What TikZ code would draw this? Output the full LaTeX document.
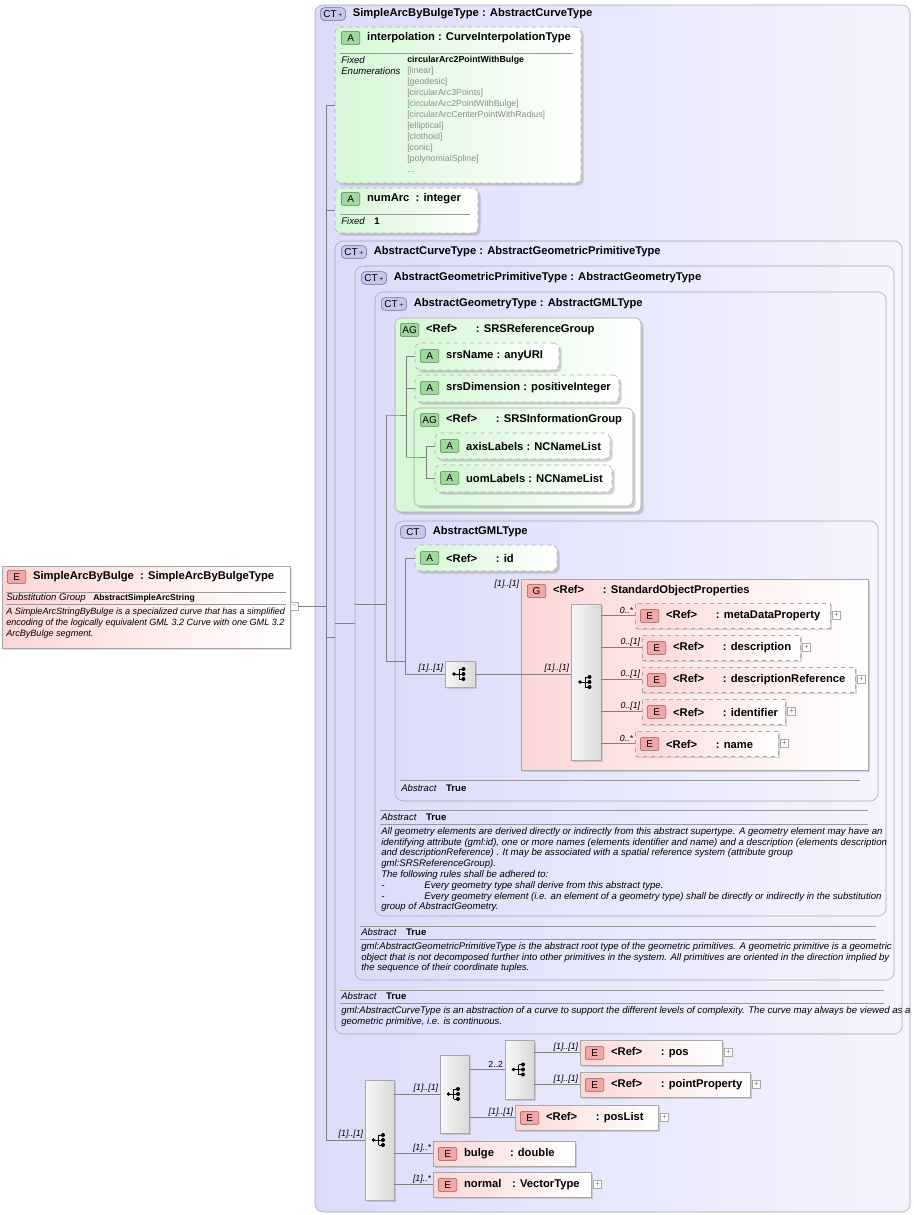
\documentclass[tikz,border=0pt]{standalone}
\usepackage{fontspec}
\setmainfont{Liberation Sans}
\usetikzlibrary{positioning,fit,shadows}

\definecolor{ctfill}{HTML}{DCDCFA}
\definecolor{ctlight}{HTML}{F4F4FF}
\definecolor{grfill}{HTML}{D6F7D6}
\definecolor{pkfill}{HTML}{FCD6D6}
\definecolor{edge}{HTML}{A8A8A8}
\definecolor{bdgpk}{HTML}{F2A6A6}
\definecolor{bdggr}{HTML}{9ED99E}
\definecolor{bdgct}{HTML}{C6C6EE}
\definecolor{enumgrey}{HTML}{8C8C8C}

\newcommand{\ttlfont}{\bfseries\fontsize{8.4}{10}\selectfont}
\newcommand{\smfont}{\fontsize{7.2}{8.1}\selectfont}
\newcommand{\gap}{\hspace{14pt}}

\begin{document}
\begin{tikzpicture}[
    x=0.75pt, y=-0.75pt,
    ctbox/.style={draw=edge, rounded corners=6pt, left color=ctfill, right color=ctlight, inner sep=0pt},
    grp/.style={draw=edge, rounded corners=4pt, left color=grfill, right color=white, inner sep=0pt,
        drop shadow={opacity=.35, shadow xshift=2pt, shadow yshift=-2pt}},
    abox/.style={grp, dashed, drop shadow={opacity=0}},
    ebox/.style={draw=edge, left color=pkfill, right color=white, inner sep=0pt,
        drop shadow={opacity=.3, shadow xshift=1.5pt, shadow yshift=-1.5pt}},
    edash/.style={ebox, dashed},
    seqbox/.style={draw=edge, left color=white!94!gray, right color=gray!30, inner sep=0pt,
        drop shadow={opacity=.3, shadow xshift=1.5pt, shadow yshift=-1.5pt}},
    badge/.style={draw=#1!55!black, fill=#1, rounded corners=1pt, inner sep=0pt,
        minimum width=14pt, minimum height=9.5pt, font=\fontsize{7.5}{8}\selectfont, anchor=west},
    ctbadge/.style={badge=bdgct, minimum width=19pt, rounded corners=3pt},
    ttl/.style={font=\ttlfont, anchor=west, inner sep=0pt},
    sm/.style={font=\smfont, anchor=west, inner sep=0pt},
    desc/.style={font=\itshape\smfont, align=left, anchor=north west, inner sep=0pt},
    mult/.style={font=\itshape\fontsize{6.6}{7}\selectfont, anchor=south east, inner sep=1pt},
    plus/.style={draw=edge, fill=white, minimum size=6pt, inner sep=0pt, font=\fontsize{6}{6}\selectfont, text=gray},
    sep/.style={draw=gray!80, line width=0.4pt},
    line/.style={draw=gray, line width=0.5pt},
    seqicon/.pic={
        \fill (-6,0) circle (1.8);
        \draw (-6,0) -- (-1,0) (-1,-5) -- (-1,5) (-1,-5) -- (3,-5) (-1,5) -- (3,5) (-1,0) -- (3,0);
        \foreach \yy in {-5,0,5} \fill (3.5,\yy) circle (2);
    }
]
\useasboundingbox (0,0) rectangle (914,1215);

% outer complex type
\node[ctbox, fit={(315,5) (910,1212)}] (sabt) {};
\node[ctbadge] (sabtB) at (320,14) {CT\,\raisebox{.3pt}{\tiny+}};
\node[ttl, right=5pt of sabtB] (sabtT) {SimpleArcByBulgeType\ : AbstractCurveType};

% element
\node[ebox, fit={(2,566) (290,648)}] (sab) {};
\node[badge=bdgpk] (sabB) at (7,577) {E};
\node[ttl, right=5pt of sabB] (sabT) {SimpleArcByBulge\ \ : SimpleArcByBulgeType};
\draw[sep] (6,592) -- (286,592);
\node[sm] (sabSg) at (6,598) {\itshape Substitution Group};
\node[sm, font=\bfseries\fontsize{6.4}{7}\selectfont] (sabSgV) at (93,598) {AbstractSimpleArcString};
\draw[sep] (6,604) -- (286,604);
\node[desc, font=\itshape\fontsize{6.8}{8.1}\selectfont] (sabD) at (6,608) {A SimpleArcStringByBulge is a specialized curve that has a simplified\\
encoding of the logically equivalent GML 3.2 Curve with one GML 3.2\\ArcByBulge segment.};
\node[plus] (sabM) at (294,606) {--};

% interpolation
\node[abox, fit={(335,27) (581,183)}] (interp) {};
\node[badge=bdggr] (interpB) at (341,38) {A};
\node[ttl, right=5pt of interpB] (interpT) {interpolation\ : CurveInterpolationType};
\draw[sep] (340,53) -- (573,53);
\node[desc] (interpF) at (341,56) {Fixed\\Enumerations};
\node[desc, font=\fontsize{6.6}{8.25}\selectfont, text=enumgrey] (interpE) at (407,56) {%
\textcolor{black}{\bfseries circularArc2PointWithBulge}\\{[linear]}\\{[geodesic]}\\{[circularArc3Points]}\\
{[circularArc2PointWithBulge]}\\{[circularArcCenterPointWithRadius]}\\{[elliptical]}\\{[clothoid]}\\{[conic]}\\
{[polynomialSpline]}\\...};

% numArc
\node[abox, fit={(335,188) (478,233)}] (numArc) {};
\node[badge=bdggr] (numArcB) at (341,199) {A};
\node[ttl, right=5pt of numArcB] (numArcT) {numArc\ \ : integer};
\draw[sep] (340,214) -- (470,214);
\node[sm] (numArcF) at (341,221) {\itshape Fixed\quad\upshape\bfseries 1};

% AbstractCurveType
\node[ctbox, fit={(335,241) (902,1034)}] (act) {};
\node[ctbadge] (actB) at (341,252) {CT\,\raisebox{.3pt}{\tiny+}};
\node[ttl, right=5pt of actB] (actT) {AbstractCurveType\ : AbstractGeometricPrimitiveType};
\draw[sep] (340,990) -- (884,990);
\node[sm] (actA) at (341,996) {\itshape Abstract\quad\upshape\bfseries True};
\draw[sep] (340,1003) -- (884,1003);
\node[desc] (actD) at (341,1006) {gml:AbstractCurveType is an abstraction of a curve to support the different levels of complexity. The curve may always be viewed as a\\
geometric primitive, i.e. is continuous.};

% AbstractGeometricPrimitiveType
\node[ctbox, fit={(355,266) (894,980)}] (agpt) {};
\node[ctbadge] (agptB) at (361,278) {CT\,\raisebox{.3pt}{\tiny+}};
\node[ttl, right=5pt of agptB] (agptT) {AbstractGeometricPrimitiveType\ : AbstractGeometryType};
\draw[sep] (360,926) -- (876,926);
\node[sm] (agptA) at (361,932) {\itshape Abstract\quad\upshape\bfseries True};
\draw[sep] (360,939) -- (876,939);
\node[desc] (agptD) at (361,942) {gml:AbstractGeometricPrimitiveType is the abstract root type of the geometric primitives. A geometric primitive is a geometric\\
object that is not decomposed further into other primitives in the system. All primitives are oriented in the direction implied by\\
the sequence of their coordinate tuples.};

% AbstractGeometryType
\node[ctbox, fit={(375,292) (886,916)}] (agt) {};
\node[ctbadge] (agtB) at (381,304) {CT\,\raisebox{.3pt}{\tiny+}};
\node[ttl, right=5pt of agtB] (agtT) {AbstractGeometryType\ : AbstractGMLType};
\draw[sep] (380,810) -- (868,810);
\node[sm] (agtA) at (381,817) {\itshape Abstract\quad\upshape\bfseries True};
\draw[sep] (380,824) -- (868,824);
\node[desc] (agtD) at (381,827) {All geometry elements are derived directly or indirectly from this abstract supertype. A geometry element may have an\\
identifying attribute (gml:id), one or more names (elements identifier and name) and a description (elements description\\
and descriptionReference) . It may be associated with a spatial reference system (attribute group\\
gml:SRSReferenceGroup).\\
The following rules shall be adhered to:\\
-\hspace{30pt}Every geometry type shall derive from this abstract type.\\
-\hspace{30pt}Every geometry element (i.e. an element of a geometry type) shall be directly or indirectly in the substitution\\
group of AbstractGeometry.};

% SRSReferenceGroup
\node[grp, fit={(395,318) (641,512)}] (srsRef) {};
\node[badge=bdggr] (srsRefB) at (400,330) {AG};
\node[ttl, right=5pt of srsRefB] (srsRefT) {<Ref>\gap : SRSReferenceGroup};
\node[abox, fit={(415,343) (559,370)}] (srsName) {};
\node[badge=bdggr] (srsNameB) at (420,356) {A};
\node[ttl, right=5pt of srsNameB] (srsNameT) {srsName\ : anyURI};
\node[abox, fit={(415,375) (619,402)}] (srsDim) {};
\node[badge=bdggr] (srsDimB) at (420,388) {A};
\node[ttl, right=5pt of srsDimB] (srsDimT) {srsDimension\ : positiveInteger};
\node[grp, fit={(414,408) (633,506)}] (srsInfo) {};
\node[badge=bdggr] (srsInfoB) at (420,420) {AG};
\node[ttl, right=5pt of srsInfoB] (srsInfoT) {<Ref>\gap : SRSInformationGroup};
\node[abox, fit={(435,433) (610,459)}] (axisLbl) {};
\node[badge=bdggr] (axisLblB) at (440,446) {A};
\node[ttl, right=5pt of axisLblB] (axisLblT) {axisLabels\ : NCNameList};
\node[abox, fit={(435,465) (612,492)}] (uomLbl) {};
\node[badge=bdggr] (uomLblB) at (440,478) {A};
\node[ttl, right=5pt of uomLblB] (uomLblT) {uomLabels\ : NCNameList};

% AbstractGMLType
\node[ctbox, fit={(395,521) (878,801)}] (gml) {};
\node[ctbadge] (gmlB) at (400,532) {CT};
\node[ttl, right=5pt of gmlB] (gmlT) {AbstractGMLType};
\draw[sep] (400,780) -- (860,780);
\node[sm] (gmlA) at (401,788) {\itshape Abstract\quad\upshape\bfseries True};
\node[abox, fit={(415,545) (557,571)}] (gmlId) {};
\node[badge=bdggr] (gmlIdB) at (420,558) {A};
\node[ttl, right=5pt of gmlIdB] (gmlIdT) {<Ref>\gap : id};
\node[seqbox, fit={(445,661) (475,687)}] (gmlSeq) {};
\pic at (gmlSeq.center) {seqicon};

% StandardObjectProperties
\node[ebox, fit={(521,579) (868,770)}] (sop) {};
\node[mult, anchor=north east] (sopM) at (sop.north west) {[1]..[1]};
\node[badge=bdgpk] (sopB) at (527,591) {G};
\node[ttl, right=5pt of sopB] (sopT) {<Ref>\gap : StandardObjectProperties};
\node[seqbox, fit={(571,604) (601,760)}] (sopSeq) {};
\pic at (sopSeq.center) {seqicon};

\foreach \nm/\lab/\mm/\xa/\xb/\yy in {
    mdp/metaDataProperty/0..*/635/830/603,
    dsc/description/0..[1]/642/800/635,
    dsr/descriptionReference/0..[1]/642/855/667,
    idf/identifier/0..[1]/642/785/699,
    nam/name/0..*/635/778/731}{
  \node[edash, fit={(\xa,\yy) (\xb,\yy+25)}] (\nm) {};
  \node[badge=bdgpk] (\nm B) at (\xa+5,\yy+13) {E};
  \node[ttl, right=5pt of \nm B] (\nm T) {<Ref>\gap : \lab};
  \node[plus, right=1.5pt of \nm] (\nm P) {+};
  \node[mult] (\nm M) at (\nm.west) {\mm};
  \draw[line] (sopSeq.east |- \nm.west) -- (\nm.west);
}

% sequences at the bottom
\node[seqbox, fit={(365,1080) (394,1200)}] (mainSeq) {};
\pic at (mainSeq.center) {seqicon};
\node[seqbox, fit={(440,1055) (469,1133)}] (choice) {};
\pic at (choice.center) {seqicon};
\node[seqbox, fit={(505,1040) (534,1099)}] (pairSeq) {};
\pic at (pairSeq.center) {seqicon};

\foreach \nm/\lab/\xa/\xb/\yy in {
    pos/<Ref>\gap : pos/580/722/1040,
    pnt/<Ref>\gap : pointProperty/580/750/1072,
    psl/<Ref>\gap : posList/515/658/1105,
    blg/bulge\hspace{12pt}: double/433/575/1141,
    nrm/normal\hspace{8pt}: VectorType/433/591/1172}{
  \node[ebox, fit={(\xa,\yy) (\xb,\yy+25)}] (\nm) {};
  \node[badge=bdgpk] (\nm B) at (\xa+5,\yy+13) {E};
  \node[ttl, right=5pt of \nm B] (\nm T) {\lab};
}
\foreach \nm in {pos,pnt,psl,nrm} \node[plus, right=1.5pt of \nm] (\nm P) {+};

% connectors
\coordinate (sp1) at (326,0);
\coordinate (sp3) at (386,0);
\coordinate (sp4) at (405,0);
\coordinate (sp5) at (406,0);
\coordinate (sp6) at (426,0);
\draw[line] (sabM.east) -- (sp1 |- sabM.east);
\draw[line] (sp1 |- interp.west) -- (sp1 |- mainSeq.west);
\draw[line] (sp1 |- interp.west) -- (interp.west);
\draw[line] (sp1 |- numArc.west) -- (numArc.west);
\draw[line] (sp1 |- act.west) -- (act.west);
\draw[line] (sp1 |- mainSeq.west) -- (mainSeq.west);
\draw[line] (act.west |- agpt.west) -- (agpt.west);
\draw[line] (agpt.west |- agt.west) -- (agt.west) -- (sp3 |- agt.west);
\draw[line] (sp3 |- srsRef.west) -- (sp3 |- gml.west);
\draw[line] (sp3 |- srsRef.west) -- (srsRef.west) -- (sp5 |- srsRef.west);
\draw[line] (sp5 |- srsName.west) -- (sp5 |- srsInfo.west);
\draw[line] (sp5 |- srsName.west) -- (srsName.west);
\draw[line] (sp5 |- srsDim.west) -- (srsDim.west);
\draw[line] (sp5 |- srsInfo.west) -- (srsInfo.west) -- (sp6 |- srsInfo.west);
\draw[line] (sp6 |- axisLbl.west) -- (sp6 |- uomLbl.west);
\draw[line] (sp6 |- axisLbl.west) -- (axisLbl.west);
\draw[line] (sp6 |- uomLbl.west) -- (uomLbl.west);
\draw[line] (sp3 |- gml.west) -- (gml.west) -- (sp4 |- gml.west);
\draw[line] (gmlId.west) -- (sp4 |- gmlId.west) -- (sp4 |- gmlSeq.west) -- (gmlSeq.west);
\node[mult] (gmlSeqM) at (gmlSeq.west) {[1]..[1]};
\draw[line] (gmlSeq.east) -- (gmlSeq.east -| sopSeq.west);
\node[mult] (sopSeqM) at (gmlSeq.east -| sopSeq.west) {[1]..[1]};
\node[mult] (mainSeqM) at (mainSeq.west) {[1]..[1]};
\draw[line] (mainSeq.east |- choice.west) -- (choice.west);
\node[mult] (choiceM) at (choice.west) {[1]..[1]};
\draw[line] (choice.east |- pairSeq.west) -- (pairSeq.west);
\node[mult, font=\fontsize{6.6}{7}\selectfont] (pairSeqM) at (pairSeq.west) {2..2};
\foreach \nm/\src/\mm in {pos/pairSeq/[1]..[1], pnt/pairSeq/[1]..[1], psl/choice/[1]..[1],
    blg/mainSeq/[1]..*, nrm/mainSeq/[1]..*}{
  \draw[line] (\src.east |- \nm.west) -- (\nm.west);
  \node[mult] (\nm M) at (\nm.west) {\mm};
}
\end{tikzpicture}
\end{document}
